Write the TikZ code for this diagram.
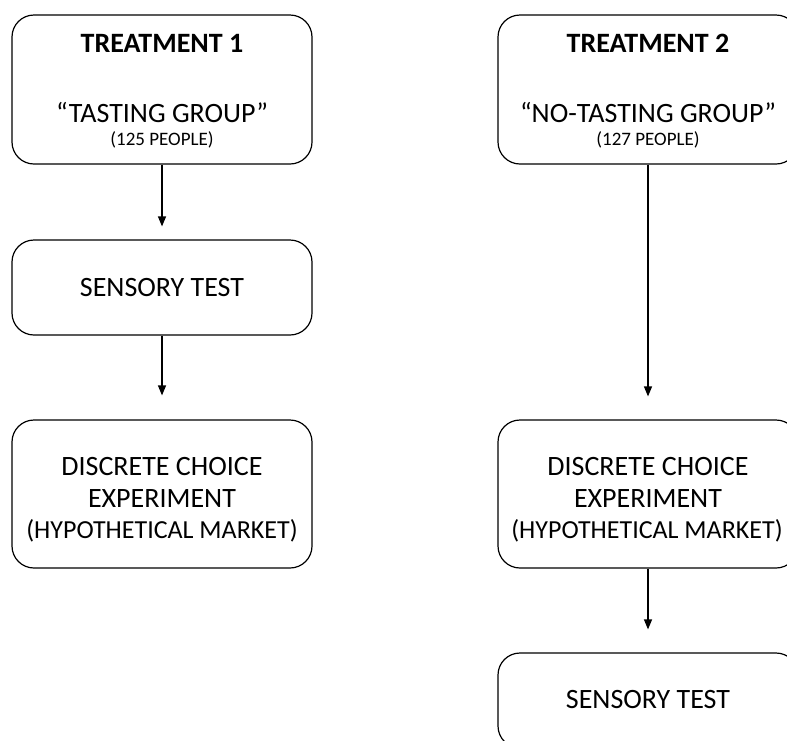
\documentclass[tikz,border=0pt]{standalone}
\usepackage{fontspec}
\setmainfont{Carlito}
\usetikzlibrary{arrows.meta}
\tikzset{
  stage/.style={draw, line width=1.2pt, rounded corners=22pt, minimum width=300pt, inner sep=0pt},
  big/.style={anchor=base, inner sep=0pt, font=\fontsize{28}{34}\selectfont},
  mid/.style={anchor=base, inner sep=0pt, font=\fontsize{26}{32}\selectfont},
  head/.style={anchor=base, inner sep=0pt, font=\fontsize{28}{34}\selectfont\bfseries},
  small/.style={anchor=base, inner sep=0pt, font=\fontsize{19}{23}\selectfont},
  flow/.style={-{Triangle[width=8pt,length=10pt]}, line width=1.2pt}
}
\begin{document}
\begin{tikzpicture}[x=1pt,y=-1pt]
	\useasboundingbox (0,0) rectangle (787,740);
	% tasting group
	\node[stage, minimum height=149pt] (tr1) at (162,89.5) {};
	\node[head] (tr1a) at (162,52) {TREATMENT 1};
	\node[big] (tr1b) at (162,122) {“TASTING GROUP”};
	\node[small] (tr1c) at (162,145) {(125 PEOPLE)};
	\node[stage, minimum height=95pt] (sens1) at (162,287.5) {};
	\node[big] (sens1a) at (162,296) {SENSORY TEST};
	\node[stage, minimum height=148pt] (dce1) at (162,494) {};
	\node[big] (dce1a) at (162,475) {DISCRETE CHOICE};
	\node[big] (dce1b) at (162,507) {EXPERIMENT};
	\node[mid] (dce1c) at (162,538) {(HYPOTHETICAL MARKET)};
	% no-tasting group
	\node[stage, minimum height=149pt] (tr2) at (648,89.5) {};
	\node[head] (tr2a) at (648,52) {TREATMENT 2};
	\node[big] (tr2b) at (648,122) {“NO-TASTING GROUP”};
	\node[small] (tr2c) at (648,145) {(127 PEOPLE)};
	\node[stage, minimum height=148pt] (dce2) at (648,494) {};
	\node[big] (dce2a) at (648,475) {DISCRETE CHOICE};
	\node[big] (dce2b) at (648,507) {EXPERIMENT};
	\node[mid] (dce2c) at (647,538) {(HYPOTHETICAL MARKET)};
	\node[stage, minimum height=95pt] (sens2) at (648,700.5) {};
	\node[big] (sens2a) at (648,708) {SENSORY TEST};
	% arrows
	\draw[flow, shorten >=13pt] (tr1) -- (sens1);
	\draw[flow, shorten >=24pt] (sens1) -- (dce1);
	\draw[flow, shorten >=23pt] (tr2) -- (dce2);
	\draw[flow, shorten >=23pt] (dce2) -- (sens2);
\end{tikzpicture}
\end{document}
